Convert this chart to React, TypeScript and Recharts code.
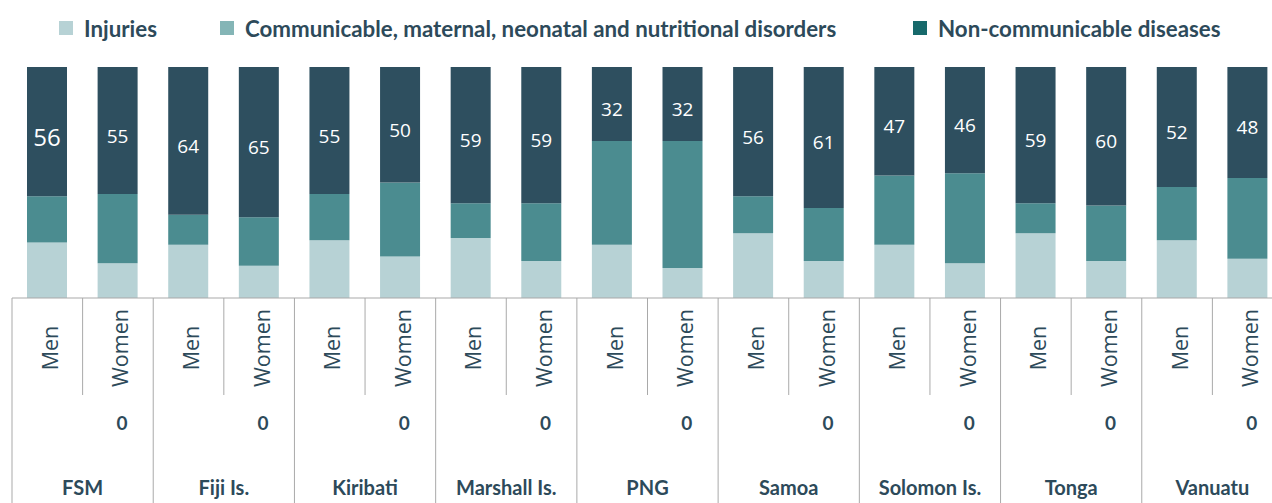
import { BarChart, Bar, XAxis, YAxis, LabelList } from 'recharts';

// countries, two bars each (Men, Women)
const countries = ['FSM', 'Fiji Is.', 'Kiribati', 'Marshall Is.', 'PNG', 'Samoa', 'Solomon Is.', 'Tonga', 'Vanuatu'];
const sexes = ['Men', 'Women'];

// share of deaths (%), order: FSM M, FSM W, Fiji M, Fiji W, ...
const injuries = [24, 15, 23, 14, 25, 18, 26, 16, 23, 13, 28, 16, 23, 15, 28, 16, 25, 17];
const communicable = [20, 30, 13, 21, 20, 32, 15, 25, 45, 55, 16, 23, 30, 39, 13, 24, 23, 35];
const ncd = [56, 55, 64, 65, 55, 50, 59, 59, 32, 32, 56, 61, 47, 46, 59, 60, 52, 48];

// second-level value shown under each Women column
const groupNote = '0';

const seriesNames = ['Injuries', 'Communicable, maternal, neonatal and nutritional disorders', 'Non-communicable diseases'];
const legendColors = ['#b7d2d5', '#84b5b6', '#17696b'];
const barColors = ['#b7d2d5', '#4b8c90', '#2e4f5f'];
const legendX = [59, 220, 913];

const TEXT = '#2d4a5a';
const GRID = '#a9a9a9';
const CHART_W = 1284;
const CHART_H = 503;
const MARGIN = { top: 67, right: 1, bottom: 0, left: 12 };
const AXIS_H = 205;
const AXIS_Y = CHART_H - AXIS_H;
const BAND = (CHART_W - MARGIN.left - MARGIN.right) / (countries.length * sexes.length);

const data = ncd.map((v, i) => ({
  key: `${countries[Math.floor(i / 2)]}|${sexes[i % 2]}`,
  sex: sexes[i % 2],
  country: countries[Math.floor(i / 2)],
  injuries: injuries[i],
  communicable: communicable[i],
  ncd: v,
}));

function AxisTick(props: any) {
  const { x, index } = props;
  const row = data[index];
  if (!row) return null;
  const left = x - BAND / 2;
  const isWomen = index % 2 === 1;
  const cy = 348;
  return (
    <g>
      <line
        x1={left}
        x2={left}
        y1={AXIS_Y}
        y2={isWomen ? 395 : CHART_H}
        stroke={GRID}
        strokeWidth={1}
      />
      {index === data.length - 1 && (
        <line x1={x + BAND / 2} x2={x + BAND / 2} y1={AXIS_Y} y2={CHART_H} stroke={GRID} />
      )}
      <text
        x={x + 2}
        y={cy}
        transform={`rotate(-90, ${x + 2}, ${cy})`}
        textAnchor="middle"
        dominantBaseline="central"
        fill={TEXT}
        fontFamily="'Open Sans', sans-serif"
        fontSize={21.5}
      >
        {row.sex}
      </text>
      {isWomen && (
        <>
          <text
            x={x + 4}
            y={422}
            textAnchor="middle"
            dominantBaseline="central"
            fill={TEXT}
            fontFamily="Lato, sans-serif"
            fontWeight={700}
            fontSize={19}
          >
            {groupNote}
          </text>
          <text
            x={left}
            y={487}
            textAnchor="middle"
            dominantBaseline="central"
            fill={TEXT}
            fontFamily="Lato, sans-serif"
            fontWeight={700}
            fontSize={20}
          >
            {row.country}
          </text>
        </>
      )}
    </g>
  );
}

function NcdLabel(props: any) {
  const vb = props.viewBox ?? props;
  const { x, y, width, height } = vb;
  const { value, index } = props;
  return (
    <text
      x={x + width / 2}
      y={y + height / 2 + 5}
      textAnchor="middle"
      dominantBaseline="central"
      fill="#ffffff"
      fontFamily="'Open Sans', sans-serif"
      fontSize={index === 0 ? 24 : 19}
    >
      {value}
    </text>
  );
}

function LegendRow() {
  return (
    <>
      {seriesNames.map((name, i) => (
        <div
          key={name}
          style={{
            position: 'absolute',
            left: legendX[i],
            top: 14,
            height: 28,
            display: 'flex',
            alignItems: 'center',
            whiteSpace: 'nowrap',
          }}
        >
          <span style={{ width: 14, height: 14, background: legendColors[i], marginRight: 11, display: 'inline-block' }} />
          <span style={{ fontFamily: 'Lato, sans-serif', fontWeight: 700, fontSize: 22.3, color: TEXT }}>{name}</span>
        </div>
      ))}
    </>
  );
}

export default function App() {
  return (
    <div
      style={{
        position: 'absolute',
        left: 0,
        top: 0,
        width: 1272,
        height: CHART_H,
        overflow: 'hidden',
        background: '#ffffff',
      }}
    >
      <LegendRow />
      <BarChart width={CHART_W} height={CHART_H} data={data} margin={MARGIN} barSize={40}>
        <XAxis
          dataKey="key"
          interval={0}
          height={AXIS_H}
          tickLine={false}
          axisLine={{ stroke: GRID }}
          tick={<AxisTick />}
        />
        <YAxis hide domain={[0, 100]} />
        <Bar dataKey="injuries" stackId="a" fill={barColors[0]} isAnimationActive={false} />
        <Bar dataKey="communicable" stackId="a" fill={barColors[1]} isAnimationActive={false} />
        <Bar dataKey="ncd" stackId="a" fill={barColors[2]} isAnimationActive={false}>
          <LabelList dataKey="ncd" content={<NcdLabel />} />
        </Bar>
      </BarChart>
    </div>
  );
}
